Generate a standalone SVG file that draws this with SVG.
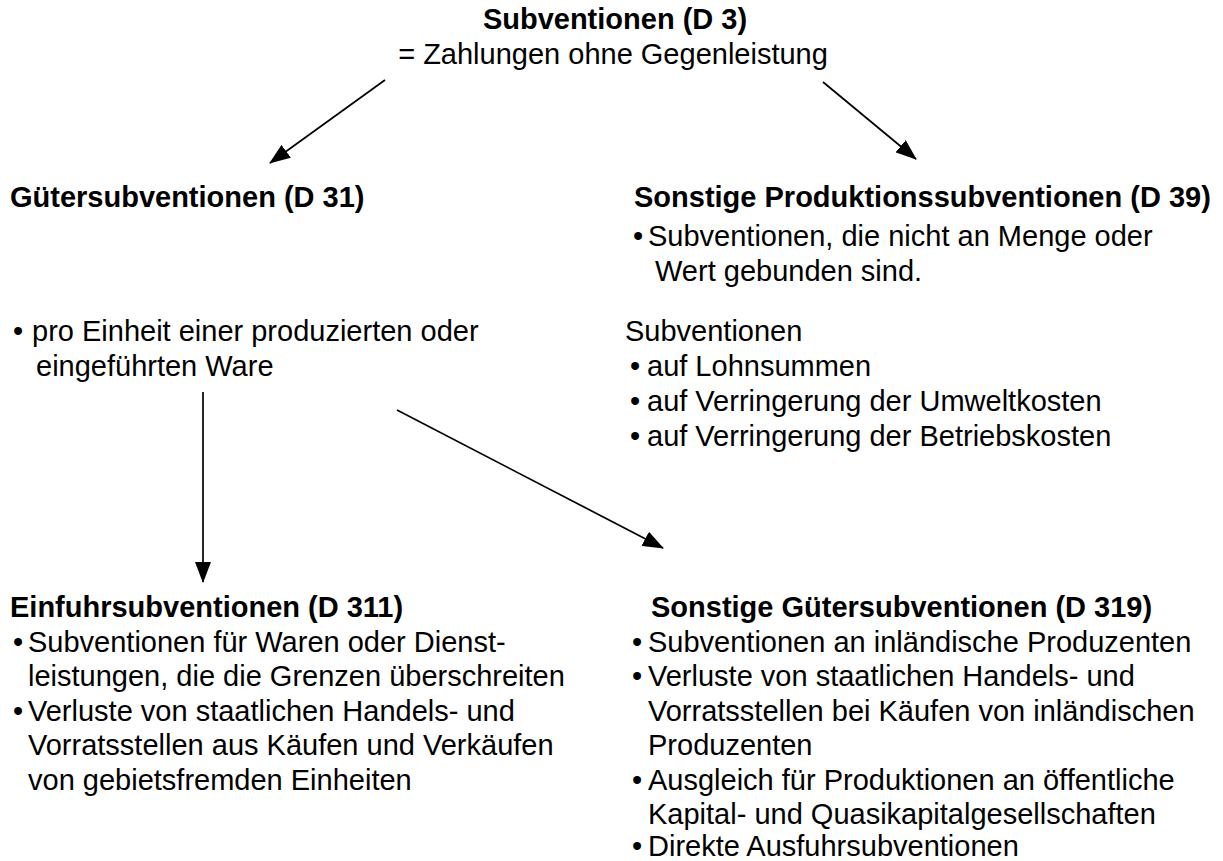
<svg xmlns="http://www.w3.org/2000/svg" width="1223" height="861" viewBox="0 0 1223 861">
<defs>
<style>
text{font-family:"Liberation Sans",Arial,sans-serif;fill:#000;font-size:29px;}
.h{font-weight:bold;}
.conn line{stroke:#000;stroke-width:1.7;fill:none;}
</style>
<marker id="ah" markerUnits="userSpaceOnUse" markerWidth="21" markerHeight="16" viewBox="0 0 21 16" refX="20" refY="8" orient="auto">
<path d="M0,0 L21,8 L0,16 Z" fill="#000"/>
</marker>
</defs>
<rect width="1223" height="861" fill="#fff"/>
<g id="connectors" class="conn">
<line x1="385" y1="80" x2="270" y2="163" marker-end="url(#ah)"/>
<line x1="823" y1="82" x2="916" y2="159" marker-end="url(#ah)"/>
<line x1="203" y1="392" x2="203" y2="582" marker-end="url(#ah)"/>
<line x1="397" y1="410" x2="663" y2="548" marker-end="url(#ah)"/>
</g>
<g id="n-d3">
<text class="h" x="615" y="29" text-anchor="middle">Subventionen (D 3)</text>
<text x="613" y="64" text-anchor="middle">= Zahlungen ohne Gegenleistung</text>
</g>
<g id="n-d31">
<text class="h" x="10" y="207">Gütersubventionen (D 31)</text>
<text x="13" y="341">•<tspan x="32">pro Einheit einer produzierten oder</tspan></text>
<text x="36" y="376">eingeführten Ware</text>
</g>
<g id="n-d39">
<text class="h" x="634" y="207">Sonstige Produktionssubventionen (D 39)</text>
<text x="633" y="246">•<tspan x="648">Subventionen, die nicht an Menge oder</tspan></text>
<text x="655" y="281">Wert gebunden sind.</text>
<text x="625" y="341">Subventionen</text>
<text x="630" y="376">•<tspan x="647">auf Lohnsummen</tspan></text>
<text x="630" y="411">•<tspan x="647">auf Verringerung der Umweltkosten</tspan></text>
<text x="630" y="446">•<tspan x="647">auf Verringerung der Betriebskosten</tspan></text>
</g>
<g id="n-d311">
<text class="h" x="10" y="617">Einfuhrsubventionen (D 311)</text>
<text x="13" y="652">•<tspan x="28">Subventionen für Waren oder Dienst-</tspan></text>
<text x="28" y="686">leistungen, die die Grenzen überschreiten</text>
<text x="13" y="721">•<tspan x="28">Verluste von staatlichen Handels- und</tspan></text>
<text x="28" y="755">Vorratsstellen aus Käufen und Verkäufen</text>
<text x="28" y="790">von gebietsfremden Einheiten</text>
</g>
<g id="n-d319">
<text class="h" x="651" y="617">Sonstige Gütersubventionen (D 319)</text>
<text x="632" y="652">•<tspan x="648">Subventionen an inländische Produzenten</tspan></text>
<text x="632" y="686">•<tspan x="648">Verluste von staatlichen Handels- und</tspan></text>
<text x="648" y="721">Vorratsstellen bei Käufen von inländischen</text>
<text x="648" y="755">Produzenten</text>
<text x="632" y="790">•<tspan x="648">Ausgleich für Produktionen an öffentliche</tspan></text>
<text x="648" y="824">Kapital- und Quasikapitalgesellschaften</text>
<text x="632" y="856">•<tspan x="648">Direkte Ausfuhrsubventionen</tspan></text>
</g>
</svg>
